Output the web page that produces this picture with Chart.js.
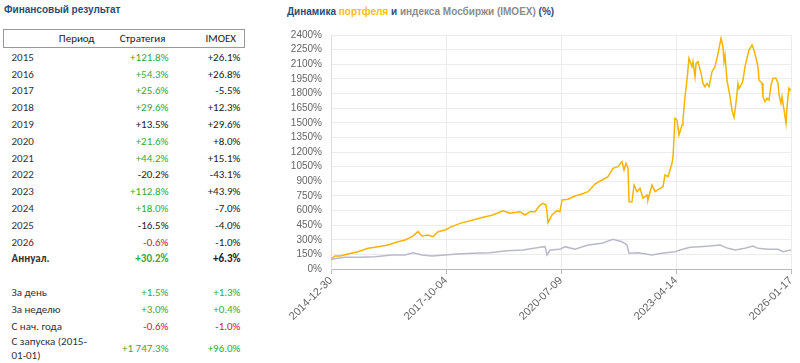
<!DOCTYPE html>
<html>
<head>
<meta charset="utf-8">
<script src="https://cdn.jsdelivr.net/npm/chart.js@4"></script>
<style>
  body { margin:0; width:800px; height:363px; background:#fff; position:relative; overflow:hidden; font-family:"Liberation Sans", Arial, sans-serif; }
  .ttl { position:absolute; font-weight:bold; font-size:10px; white-space:nowrap; color:#1f4e79; }
  #t1 { left:4px; top:4px; }
  #t2 { left:287px; top:6px; }
  .or { color:#ffc000; }
  .gr { color:#8c8c8c; }
  #tbl { position:absolute; left:3px; top:29px; width:241px; border-collapse:collapse; table-layout:fixed; font-family:Carlito, Lato, sans-serif; font-size:11px; color:#222; }
  #tbl th { font-weight:normal; height:17px; border-top:1px solid #999; border-bottom:1px solid #999; text-align:right; padding:0 4px 0 0; color:#222; }
  #tbl th:first-child { border-left:1px solid #999; }
  #tbl th:last-child { border-right:1px solid #999; padding-right:8px; }
  #tbl th.mid { padding-right:5px; }
  #tbl td { height:16.8px; padding:0; line-height:14px; text-align:right; }
  #tbl td:first-child { text-align:left; padding-left:8px; color:#333; }
  #tbl td.c2 { padding-right:2px; }
  #tbl td.c3 { padding-right:4px; }
  #tbl tr.gap td { height:16.8px; }
  #tbl tr.sp td { height:1.5px; }
  .g { color:#3aa935; }
  .r { color:#d0202e; }
  .b { font-weight:bold; }
  #wrap { position:absolute; left:280px; top:28px; width:520px; height:335px; }
</style>
</head>
<body>
<div class="ttl" id="t1">Финансовый результат</div>
<div class="ttl" id="t2">Динамика <span class="or">портфеля</span> и <span class="gr">индекса Мосбиржи (IMOEX)</span> (%)</div>
<table id="tbl"></table>
<div id="wrap"><canvas id="c" width="520" height="335"></canvas></div>
<script>
// table data
const periods = ['2015','2016','2017','2018','2019','2020','2021','2022','2023','2024','2025','2026'];
const stratYear = ['+121.8%','+54.3%','+25.6%','+29.6%','+13.5%','+21.6%','+44.2%','-20.2%','+112.8%','+18.0%','-16.5%','-0.6%'];
const stratTone = ['g','g','g','g','','g','g','','g','g','','r'];
const imoexYear = ['+26.1%','+26.8%','-5.5%','+12.3%','+29.6%','+8.0%','+15.1%','-43.1%','+43.9%','-7.0%','-4.0%','-1.0%'];
const annualRow = ['Аннуал.','+30.2%','+6.3%'];
const extraLabels = ['За день','За неделю','С нач. года','С запуска (2015-01-01)'];
const extraStrat = ['+1.5%','+3.0%','-0.6%','+1 747.3%'];
const extraImoex = ['+1.3%','+0.4%','-1.0%','+96.0%'];
const extraTone = ['g','g','r','g'];

// chart data (index = 100 at start)
const portfolioDates = ['2014-12-30','2015-02-03','2015-03-19','2015-05-28','2015-08-24','2015-11-20','2016-02-15','2016-05-13','2016-08-09','2016-10-09','2016-12-10',
  '2017-01-31','2017-03-07','2017-04-29','2017-06-12','2017-07-26','2017-09-25','2017-11-08','2018-02-04','2018-05-29','2018-08-25','2018-11-20',
  '2019-02-16','2019-04-19','2019-07-15','2019-08-28','2019-10-11','2019-11-24','2020-01-07','2020-02-02','2020-02-28','2020-03-08','2020-03-17',
  '2020-04-21','2020-06-04','2020-06-30','2020-07-18','2020-09-08','2020-11-09','2021-01-09','2021-03-03','2021-05-03','2021-07-04','2021-08-25',
  '2021-10-08','2021-11-21','2021-12-26','2022-01-13','2022-01-30','2022-02-17','2022-02-26','2022-03-24','2022-04-11','2022-05-07','2022-06-02',
  '2022-06-28','2022-08-03','2022-08-11','2022-09-15','2022-10-12','2022-11-25','2022-12-21','2023-01-07','2023-02-03','2023-03-10','2023-03-19',
  '2023-04-05','2023-04-23','2023-05-10','2023-06-06','2023-06-14','2023-07-02','2023-07-19','2023-08-06','2023-09-01','2023-09-10','2023-09-28',
  '2023-10-07','2023-10-24','2023-11-20','2023-12-07','2023-12-24','2024-01-11','2024-01-29','2024-02-24','2024-03-21','2024-04-17','2024-05-13',
  '2024-05-30','2024-06-08','2024-06-17','2024-07-04','2024-07-31','2024-08-17','2024-09-04','2024-09-21','2024-10-09','2024-10-18','2024-11-13',
  '2024-11-22','2024-12-09','2024-12-27','2025-01-13','2025-02-09','2025-02-26','2025-03-16','2025-04-02','2025-04-11','2025-05-08','2025-05-16',
  '2025-06-03','2025-06-20','2025-07-08','2025-07-26','2025-08-12','2025-09-07','2025-09-25','2025-10-04','2025-10-21','2025-10-30','2025-11-17',
  '2025-12-04','2025-12-13','2025-12-30','2026-01-08','2026-01-17'];
const portfolioValues = [100,133,133,154,177,212,229,246,280,297,331,
  383,338,349,331,383,400,427,468,502,530,554,
  598,571,588,554,588,588,656,673,656,588,475,
  554,598,588,708,715,749,769,793,872,913,947,
  1033,1049,1101,1015,1084,1033,690,690,862,793,827,
  725,759,708,862,793,827,844,964,947,1084,1152,
  1545,1528,1374,1477,1528,1767,1938,2161,2075,2127,1972,
  2109,2127,2007,1904,1870,1904,1870,2024,2075,2212,2366,
  2280,2127,2195,1938,1767,1631,1555,1699,1904,1853,1904,
  1938,2075,2161,2246,2297,2246,2161,2075,1938,1904,1767,
  1716,1750,1733,1887,1956,1956,1904,1785,1699,1767,1631,
  1494,1665,1853,1836,1847];

const imoexDates = ['2014-12-30','2015-05-02','2015-09-10','2016-01-20','2016-06-17','2016-10-09','2016-12-19','2017-03-07','2017-06-03','2017-09-25',
  '2018-01-09','2018-05-29','2018-10-25','2019-03-23','2019-08-11','2020-01-07','2020-02-20','2020-03-08','2020-04-04','2020-06-30','2020-08-13',
  '2020-11-09','2021-03-03','2021-07-04','2021-10-08','2021-12-26','2022-02-08','2022-02-26','2022-05-16','2022-09-15','2022-12-12','2023-04-05',
  '2023-05-19','2023-08-15','2023-11-11','2024-02-06','2024-05-04','2024-07-13','2024-09-13','2024-12-09','2025-02-17','2025-04-02','2025-06-29',
  '2025-09-25','2025-11-08','2026-01-17'];
const imoexValues = [100,120,120,126,144,144,167,144,133,144,
  154,161,167,188,195,222,229,144,195,202,229,
  202,246,264,304,280,246,161,167,144,161,177,
  195,222,229,236,246,212,195,212,236,212,202,
  202,177,196];

const xTickLabels = ['2014-12-30','2017-10-04','2020-07-09','2023-04-14','2026-01-17'];

// build table
const tbl = document.getElementById('tbl');
let html = '<colgroup><col style="width:95px"><col style="width:72px"><col style="width:74px"></colgroup>';
html += '<tr><th>Период</th><th class="mid">Стратегия</th><th>IMOEX</th></tr>';
html += '<tr class="sp"><td></td><td></td><td></td></tr>';
periods.forEach((p, i) => {
  html += '<tr><td>' + p + '</td><td class="c2 ' + stratTone[i] + '">' + stratYear[i] + '</td><td class="c3">' + imoexYear[i] + '</td></tr>';
});
html += '<tr class="b"><td>' + annualRow[0] + '</td><td class="c2 g">' + annualRow[1] + '</td><td class="c3">' + annualRow[2] + '</td></tr>';
html += '<tr class="gap"><td></td><td></td><td></td></tr>';
extraLabels.forEach((l, i) => {
  html += '<tr><td>' + l + '</td><td class="c2 ' + extraTone[i] + '">' + extraStrat[i] + '</td><td class="c3 ' + extraTone[i] + '">' + extraImoex[i] + '</td></tr>';
});
tbl.innerHTML = html;

// chart
const base = Date.parse('2014-12-30');
const dayOf = s => (Date.parse(s) - base) / 86400000;
const toPts = (d, v) => d.map((s, i) => ({ x: dayOf(s), y: v[i] }));

new Chart(document.getElementById('c'), {
  type: 'line',
  data: {
    datasets: [
      { label: 'IMOEX', data: toPts(imoexDates, imoexValues), borderColor: '#b9b9cc', borderWidth: 1.5, pointRadius: 0, tension: 0 },
      { label: 'Портфель', data: toPts(portfolioDates, portfolioValues), borderColor: '#f7b500', borderWidth: 1.5, pointRadius: 0, tension: 0 }
    ]
  },
  options: {
    responsive: false,
    animation: false,
    layout: { padding: { top: 7, right: 9, left: 0, bottom: 0 } },
    plugins: { legend: { display: false }, tooltip: { enabled: false } },
    scales: {
      x: {
        type: 'linear',
        min: dayOf(xTickLabels[0]),
        max: dayOf(xTickLabels[xTickLabels.length - 1]),
        afterBuildTicks: s => { s.ticks = xTickLabels.map(t => ({ value: dayOf(t) })); },
        afterFit: s => { s.height = 94; s.paddingLeft = 0; s.paddingRight = 0; },
        grid: { color: '#ececec', tickLength: 5, tickColor: '#bbb' },
        border: { color: '#bbb' },
        ticks: {
          autoSkip: false, minRotation: 45, maxRotation: 45, padding: 0,
          color: '#666', font: { family: 'Liberation Sans', size: 11 },
          callback: (v, i) => xTickLabels[i]
        }
      },
      y: {
        min: 0, max: 2400,
        afterFit: s => { s.width = 51; s.paddingTop = 0; s.paddingBottom = 0; },
        grid: { color: '#ececec', drawTicks: false },
        border: { color: '#ddd' },
        ticks: {
          stepSize: 150, padding: 9, autoSkip: false,
          color: '#666', font: { family: 'Liberation Sans', size: 10 },
          callback: v => v + '%'
        }
      }
    }
  }
});
</script>
</body>
</html>
